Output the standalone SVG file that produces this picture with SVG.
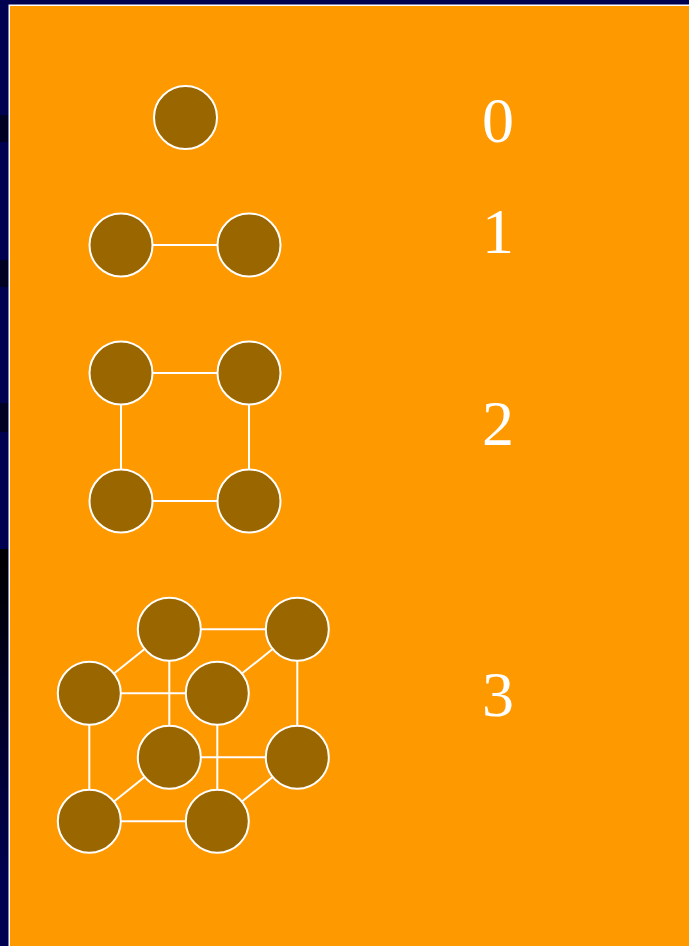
<svg xmlns="http://www.w3.org/2000/svg" width="689" height="946" viewBox="0 0 689 946">
<defs>
<linearGradient id="fade" x1="0" y1="0" x2="0" y2="1">
<stop offset="0" stop-color="#000000"/>
<stop offset="1" stop-color="#000050"/>
</linearGradient>
</defs>
<style>
.node circle{fill:#996600;stroke:#ffffff;stroke-width:2}
.edges line{stroke:#ffffff;stroke-width:2}
.lbl{font-family:"Liberation Serif","Times New Roman",serif;font-size:64px;fill:#ffffff;text-anchor:middle}
</style>
<rect x="0" y="0" width="689" height="946" fill="#000050"/>
<rect x="0" y="115" width="8" height="27" fill="#000022"/>
<rect x="0" y="260" width="8" height="27" fill="#000022"/>
<rect x="0" y="403" width="8" height="29" fill="#000022"/>
<rect x="0" y="549" width="8" height="330" fill="url(#fade)"/>
<rect x="8.5" y="4.5" width="690" height="950" fill="#ffffff"/>
<rect x="10" y="6" width="689" height="946" fill="#ff9900"/>
<g class="edges" id="connectors">
<line x1="121" y1="245" x2="249" y2="245"/>
<line x1="121" y1="373" x2="249" y2="373"/>
<line x1="121" y1="501" x2="249" y2="501"/>
<line x1="121" y1="373" x2="121" y2="501"/>
<line x1="249" y1="373" x2="249" y2="501"/>
<line x1="169.3" y1="629.3" x2="297.3" y2="629.3"/>
<line x1="169.3" y1="757.3" x2="297.3" y2="757.3"/>
<line x1="169.3" y1="629.3" x2="169.3" y2="757.3"/>
<line x1="297.3" y1="629.3" x2="297.3" y2="757.3"/>
<line x1="89.3" y1="693.3" x2="217.3" y2="693.3"/>
<line x1="89.3" y1="821.3" x2="217.3" y2="821.3"/>
<line x1="89.3" y1="693.3" x2="89.3" y2="821.3"/>
<line x1="217.3" y1="693.3" x2="217.3" y2="821.3"/>
<line x1="89.3" y1="693.3" x2="169.3" y2="629.3"/>
<line x1="217.3" y1="693.3" x2="297.3" y2="629.3"/>
<line x1="89.3" y1="821.3" x2="169.3" y2="757.3"/>
<line x1="217.3" y1="821.3" x2="297.3" y2="757.3"/>
</g>
<g class="node" id="n0"><circle cx="185.5" cy="117.5" r="31.5"/></g>
<g class="node" id="n1a"><circle cx="121" cy="245" r="31.5"/></g>
<g class="node" id="n1b"><circle cx="249" cy="245" r="31.5"/></g>
<g class="node" id="n2a"><circle cx="121" cy="373" r="31.5"/></g>
<g class="node" id="n2b"><circle cx="249" cy="373" r="31.5"/></g>
<g class="node" id="n2c"><circle cx="121" cy="501" r="31.5"/></g>
<g class="node" id="n2d"><circle cx="249" cy="501" r="31.5"/></g>
<g class="node" id="n3a"><circle cx="169.3" cy="629.3" r="31.5"/></g>
<g class="node" id="n3b"><circle cx="297.3" cy="629.3" r="31.5"/></g>
<g class="node" id="n3c"><circle cx="169.3" cy="757.3" r="31.5"/></g>
<g class="node" id="n3d"><circle cx="297.3" cy="757.3" r="31.5"/></g>
<g class="node" id="n3e"><circle cx="89.3" cy="693.3" r="31.5"/></g>
<g class="node" id="n3f"><circle cx="217.3" cy="693.3" r="31.5"/></g>
<g class="node" id="n3g"><circle cx="89.3" cy="821.3" r="31.5"/></g>
<g class="node" id="n3h"><circle cx="217.3" cy="821.3" r="31.5"/></g>
<g id="labels">
<text class="lbl" x="498" y="142">0</text>
<text class="lbl" x="498" y="253">1</text>
<text class="lbl" x="498" y="445">2</text>
<text class="lbl" x="498" y="716">3</text>
</g>
</svg>
